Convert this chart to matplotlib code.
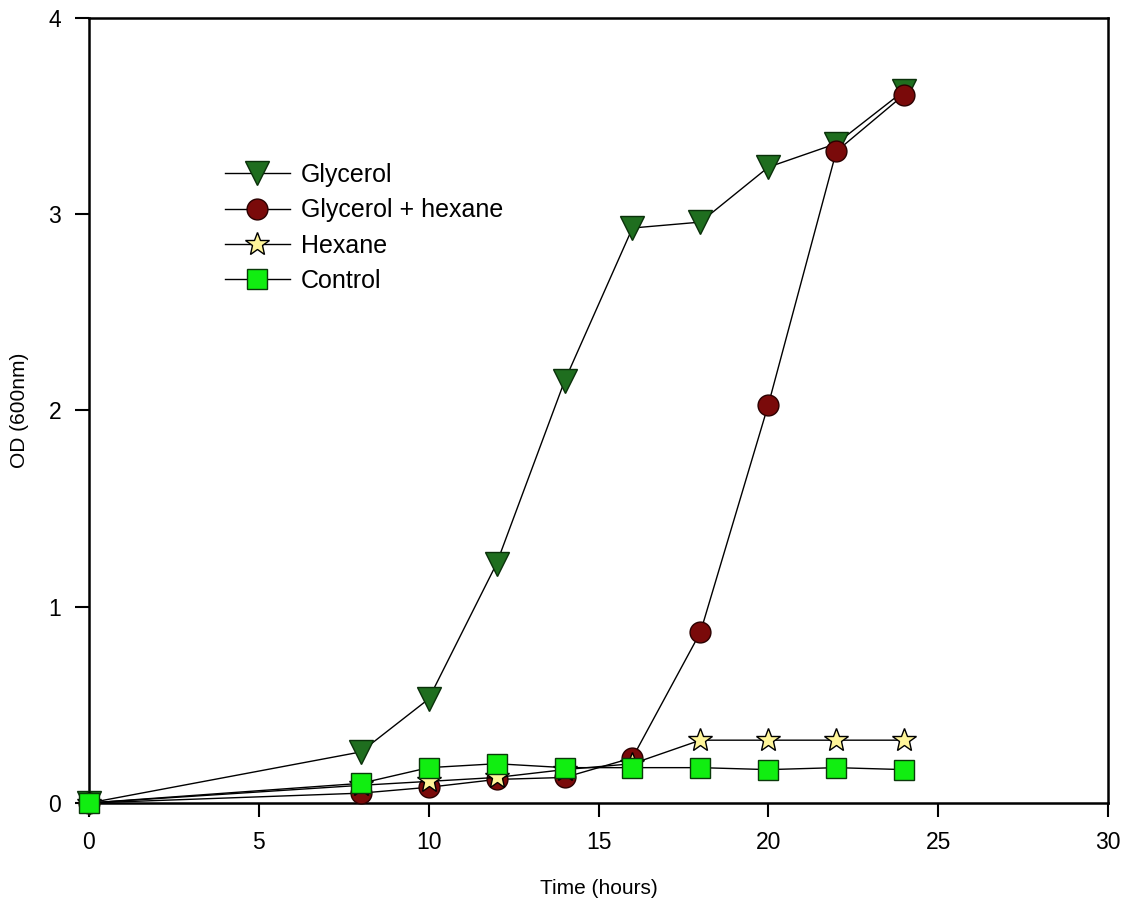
import matplotlib
matplotlib.use('Agg')
from matplotlib import pyplot as plt

plt.rcParams['font.family'] = ['Liberation Sans', 'DejaVu Sans']

hours = [0, 8, 10, 12, 14, 16, 18, 20, 22, 24]
glycerol = [0.0, 0.26, 0.53, 1.22, 2.15, 2.93, 2.96, 3.24, 3.36, 3.63]
glycerol_hexane = [0.0, 0.05, 0.08, 0.12, 0.13, 0.23, 0.87, 2.03, 3.32, 3.61]
hexane = [0.0, 0.09, 0.11, 0.13, 0.17, 0.20, 0.32, 0.32, 0.32, 0.32]
control = [0.0, 0.10, 0.18, 0.20, 0.18, 0.18, 0.18, 0.17, 0.18, 0.17]

labels = ['Glycerol', 'Glycerol + hexane', 'Hexane', 'Control']

fig = plt.figure(figsize=(11.28, 9.01), dpi=100)
ax = fig.add_axes([0.0789, 0.1088, 0.9034, 0.8712])

ax.plot(hours, glycerol, color='black', lw=1, marker='v', ms=17,
        mfc='#1f6e1f', mec='#0a300a', mew=1, label=labels[0], zorder=3, clip_on=False)
ax.plot(hours, glycerol_hexane, color='black', lw=1, marker='o', ms=15,
        mfc='#7a0a0a', mec='#2a0000', mew=1, label=labels[1], zorder=3, clip_on=False)
ax.plot(hours, hexane, color='black', lw=1, marker='*', ms=18,
        mfc='#fff59a', mec='black', mew=1, label=labels[2], zorder=3, clip_on=False)
ax.plot(hours, control, color='black', lw=1, marker='s', ms=15,
        mfc='#11ee11', mec='#0a3a0a', mew=1, label=labels[3], zorder=4, clip_on=False)

ax.set_xlim(0, 30)
ax.set_ylim(0, 4)
ax.set_xticks([0, 5, 10, 15, 20, 25, 30])
ax.set_yticks([0, 1, 2, 3, 4])
ax.tick_params(direction='out', length=10, width=1.5, labelsize=16.5, pad=10,
               top=False, right=False)
for s in ax.spines.values():
    s.set_linewidth(1.8)
ax.set_xlabel('Time (hours)', fontsize=15, labelpad=18)
ax.set_ylabel('OD (600nm)', fontsize=15, labelpad=14)

ax.legend(loc='upper left', bbox_to_anchor=(0.133, 0.815), frameon=False,
          fontsize=18, handlelength=2.6, labelspacing=0.45, borderaxespad=0,
          borderpad=0, handletextpad=0.45)

fig.savefig('out.png', dpi=100, facecolor='white')
